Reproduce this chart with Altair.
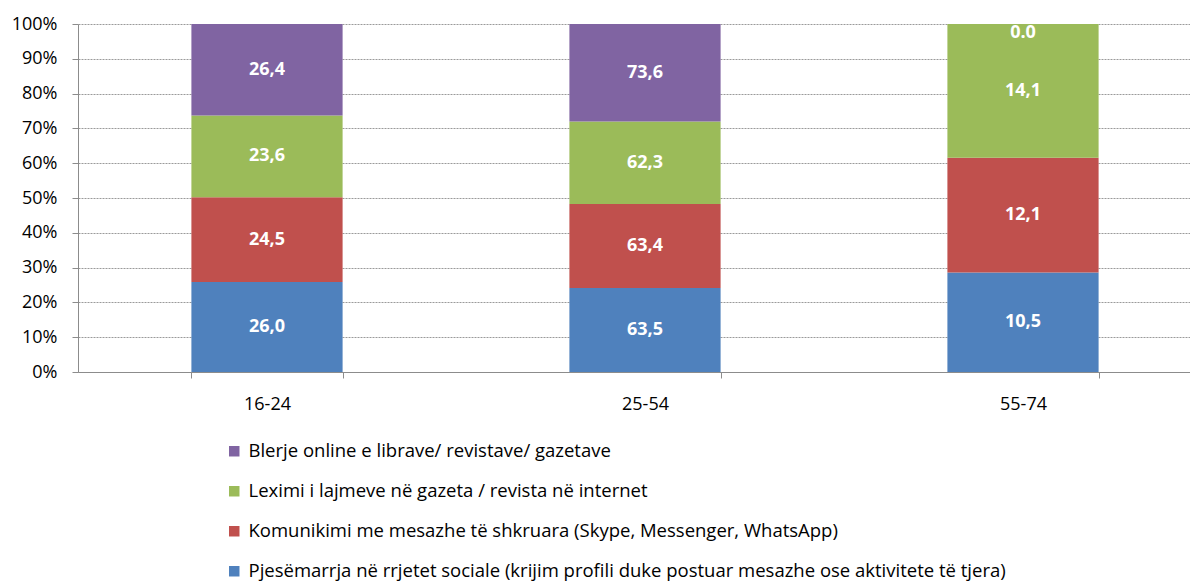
import altair as alt
import pandas as pd

categories = ["16-24", "25-54", "55-74"]
series = [
    "Pjesëmarrja në rrjetet sociale (krijim profili duke postuar mesazhe ose aktivitete të tjera)",
    "Komunikimi me mesazhe të shkruara (Skype, Messenger, WhatsApp)",
    "Leximi i lajmeve në gazeta / revista në internet",
    "Blerje online e librave/ revistave/ gazetave",
]
colors = ["#4F81BD", "#C0504D", "#9BBB59", "#8064A2"]
values = {
    series[0]: [26.0, 63.5, 10.5],
    series[1]: [24.5, 63.4, 12.1],
    series[2]: [23.6, 62.3, 14.1],
    series[3]: [26.4, 73.6, 0.0],
}

rows = []
for si, s in enumerate(series):
    for ci, c in enumerate(categories):
        rows.append({"cat": c, "series": s, "order": si, "v": values[s][ci]})
df = pd.DataFrame(rows)

legend_order = series[::-1]
FONT = "Open Sans"

base = alt.Chart(df).transform_joinaggregate(
    total="sum(v)", groupby=["cat"]
).transform_window(
    cum="sum(v)", groupby=["cat"], sort=[alt.SortField("order")], frame=[None, 0]
).transform_calculate(
    y1="(datum.cum - datum.v) / datum.total",
    y2="datum.cum / datum.total",
    mid="(datum.cum - datum.v / 2) / datum.total",
    lbl="datum.v == 0 ? '0.0' : replace(format(datum.v, '.1f'), '.', ',')",
)

xscale = alt.Scale(range=[0, 1134], paddingInner=0.6, paddingOuter=0.3)
yscale = alt.Scale(domain=[0, 1])
xaxis = alt.Axis(
    title=None, labelAngle=0, tickBand="extent", tickSize=6, labelPadding=17,
    domainColor="#8c8c8c", tickColor="#8c8c8c", labelFontSize=18,
    labelFont=FONT, labelColor="#000000",
)
yaxis = alt.Axis(
    title=None, format="%", values=[i / 10 for i in range(11)],
    grid=True, gridDash=[2, 1], gridColor="#9a9a9a", gridWidth=1,
    tickSize=6, labelPadding=15, labelOverlap=False,
    domainColor="#8c8c8c", tickColor="#8c8c8c", labelFontSize=18,
    labelFont=FONT, labelColor="#000000",
)

bars = base.mark_bar().encode(
    x=alt.X("cat:N", sort=categories, scale=xscale, axis=xaxis),
    y=alt.Y("y1:Q", scale=yscale, axis=yaxis),
    y2="y2:Q",
    color=alt.Color(
        "series:N",
        scale=alt.Scale(domain=legend_order, range=colors[::-1]),
        legend=alt.Legend(
            title=None, orient="none", legendX=147, legendY=418, direction="vertical",
            symbolType="square", symbolSize=110, symbolStrokeWidth=0,
            labelFontSize=18.5, labelFont=FONT, labelColor="#000000",
            rowPadding=21, labelOffset=5, labelLimit=1000,
        ),
    ),
)

labels = base.transform_filter("datum.v > 0").mark_text(
    color="white", fontWeight="bold", fontSize=18, font=FONT, baseline="middle"
).encode(
    x=alt.X("cat:N", sort=categories, scale=xscale, axis=xaxis),
    y=alt.Y("mid:Q", scale=yscale, axis=yaxis),
    text="lbl:N",
)

zero_labels = base.transform_filter("datum.v == 0").mark_text(
    color="white", fontWeight="bold", fontSize=18, font=FONT, baseline="top", dy=0
).encode(
    x=alt.X("cat:N", sort=categories, scale=xscale, axis=xaxis),
    y=alt.Y("y2:Q", scale=yscale, axis=yaxis),
    text="lbl:N",
)

chart = alt.layer(bars, labels, zero_labels).properties(
    width=1112, height=348,
    autosize=alt.AutoSizeParams(type="none"),
    padding={"left": 70, "top": 16, "right": 0, "bottom": 212},
).configure_view(stroke=None).configure_axis(
    labelFontSize=18, labelFont=FONT, labelColor="#000000",
).configure_legend(labelFontSize=18.5, labelFont=FONT)

chart.save("out.html", embed_options={"renderer": "svg", "actions": False})
